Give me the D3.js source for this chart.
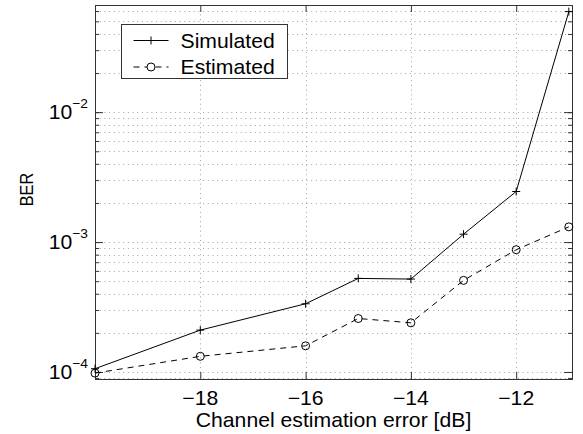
<!DOCTYPE html>
<html>
<head>
<meta charset="utf-8">
<script src="https://cdn.jsdelivr.net/npm/d3@7"></script>
<style>
  body { margin: 0; background: #fff; }
  text { font-family: "Liberation Sans", Arial, sans-serif; fill: #000; }
</style>
</head>
<body>
<div id="chart"></div>
<script>
// BER vs errore di stima del canale
const xValues = [-20, -18, -16, -15, -14, -13, -12, -11];
const simulated = [1.06e-4, 2.1e-4, 3.35e-4, 5.25e-4, 5.19e-4, 1.15e-3, 2.45e-3, 5.94e-2];
const estimated = [9.8e-5, 1.32e-4, 1.59e-4, 2.58e-4, 2.39e-4, 5.07e-4, 8.73e-4, 1.31e-3];
const xTicks = [-18, -16, -14, -12];
const yDecades = [-4, -3, -2];
const seriesNames = ['Simulated', 'Estimated'];

const W = 583, H = 434;
const margin = { left: 95, right: 11, top: 5, bottom: 55 };
const width = W - margin.left - margin.right;
const height = H - margin.top - margin.bottom;

// il riferimento ha il testo un po' "allargato" in orizzontale
const SX = 1.06;
const FS = 20;

function addText(parent, px, py, str, anchor) {
    return parent.append('text')
        .attr('transform', `translate(${px},${py}) scale(${SX},1)`)
        .attr('text-anchor', anchor || 'start')
        .style('font-size', FS + 'px')
        .text(str);
}

const svg = d3.select('#chart').append('svg')
    .attr('width', W).attr('height', H);
const g = svg.append('g')
    .attr('transform', `translate(${margin.left},${margin.top})`);

const x = d3.scaleLinear().domain([-20, -10.94]).range([0, width]);
const y = d3.scaleLog().domain([8.83e-5, 0.0668]).range([height, 0]);

// tick minori e maggiori sul log
const yMinor = [];
[-5, -4, -3, -2, -1].forEach(e => {
    for (let m = 1; m <= 9; m++) {
        const v = m * Math.pow(10, e);
        if (v >= y.domain()[0] && v <= y.domain()[1]) yMinor.push(v);
    }
});

// griglia
const gridColor = '#a3a3a3';
g.append('g').selectAll('line')
    .data(yMinor)
    .join('line')
    .attr('x1', 0).attr('x2', width)
    .attr('y1', d => Math.round(y(d)) + 0.5).attr('y2', d => Math.round(y(d)) + 0.5)
    .attr('stroke', gridColor).attr('stroke-width', 1)
    .attr('stroke-dasharray', '1,3.7');
g.append('g').selectAll('line')
    .data(xTicks)
    .join('line')
    .attr('x1', d => Math.round(x(d)) + 0.5).attr('x2', d => Math.round(x(d)) + 0.5)
    .attr('y1', 0).attr('y2', height)
    .attr('stroke', gridColor).attr('stroke-width', 1)
    .attr('stroke-dasharray', '1,3.7');

// assi (tick verso l'interno, su tutti i lati)
const axisColor = '#333';
g.append('g').attr('transform', `translate(0,${height})`)
    .call(d3.axisBottom(x).tickValues(xTicks).tickSize(-7).tickFormat(''));
g.append('g')
    .call(d3.axisTop(x).tickValues(xTicks).tickSize(-7).tickFormat(''));
g.append('g')
    .call(d3.axisLeft(y).tickValues(yMinor).tickSize(-4).tickFormat(''));
g.append('g').attr('transform', `translate(${width},0)`)
    .call(d3.axisRight(y).tickValues(yMinor).tickSize(-4).tickFormat(''));
g.append('g')
    .call(d3.axisLeft(y).tickValues(yDecades.map(e => Math.pow(10, e))).tickSize(-8).tickFormat(''));
g.append('g').attr('transform', `translate(${width},0)`)
    .call(d3.axisRight(y).tickValues(yDecades.map(e => Math.pow(10, e))).tickSize(-8).tickFormat(''));
g.selectAll('.domain').attr('stroke', 'none');
g.selectAll('.tick line').attr('stroke', axisColor);

g.append('rect')
    .attr('x', 0.5).attr('y', 0.5)
    .attr('width', width).attr('height', height)
    .attr('fill', 'none').attr('stroke', axisColor).attr('stroke-width', 1);

// etichette tick
xTicks.forEach(d => {
    addText(g, x(d), height + 25.5, '\u2212' + Math.abs(d), 'middle');
});

yDecades.forEach(e => {
    const t = addText(g, -7, y(Math.pow(10, e)) + 7, null, 'end');
    t.append('tspan').text('10');
    t.append('tspan')
        .attr('dy', -11)
        .style('font-size', '13px')
        .text('\u2212' + Math.abs(e));
});

// label
addText(g, width / 2, height + 48, 'Channel estimation error [dB]', 'middle');
g.append('text')
    .attr('transform', `translate(-62,${height / 2 - 2.5}) rotate(-90) scale(0.86,1)`)
    .attr('text-anchor', 'middle')
    .style('font-size', '19px')
    .text('BER');

// curve
const line = d3.line().x(d => x(d[0])).y(d => y(d[1]));
const simData = xValues.map((v, i) => [v, simulated[i]]);
const estData = xValues.map((v, i) => [v, estimated[i]]);

g.append('path').datum(simData)
    .attr('d', line)
    .attr('fill', 'none').attr('stroke', '#000').attr('stroke-width', 1);
g.append('path').datum(estData)
    .attr('d', line)
    .attr('fill', 'none').attr('stroke', '#000').attr('stroke-width', 1)
    .attr('stroke-dasharray', '6,5');

// marker +
g.selectAll('.plus')
    .data(simData)
    .join('path')
    .attr('class', 'plus')
    .attr('d', d => `M${x(d[0]) - 4},${y(d[1])}h8M${x(d[0])},${y(d[1]) - 4}v8`)
    .attr('stroke', '#000').attr('stroke-width', 1);
// marker o
g.selectAll('.circ')
    .data(estData)
    .join('circle')
    .attr('class', 'circ')
    .attr('cx', d => x(d[0])).attr('cy', d => y(d[1]))
    .attr('r', 4)
    .attr('fill', 'none').attr('stroke', '#000').attr('stroke-width', 1);

// legenda
const legend = svg.append('g').attr('transform', 'translate(121.5,24.5)');
legend.append('rect')
    .attr('width', 166).attr('height', 54)
    .attr('fill', '#fff').attr('stroke', axisColor).attr('stroke-width', 1);
seriesNames.forEach((name, i) => {
    const ly = 16 + i * 26.5;
    const row = legend.append('g');
    row.append('line')
        .attr('x1', 12).attr('x2', 47)
        .attr('y1', ly).attr('y2', ly)
        .attr('stroke', '#000').attr('stroke-width', 1)
        .attr('stroke-dasharray', i === 1 ? '6,5' : null);
    if (i === 0) {
        row.append('path')
            .attr('d', `M25.5,${ly}h8M29.5,${ly - 4}v8`)
            .attr('stroke', '#000');
    } else {
        row.append('circle')
            .attr('cx', 29.5).attr('cy', ly).attr('r', 4)
            .attr('fill', '#fff').attr('stroke', '#000');
    }
    addText(row, 59, ly + 7, name, 'start');
});
</script>
</body>
</html>
